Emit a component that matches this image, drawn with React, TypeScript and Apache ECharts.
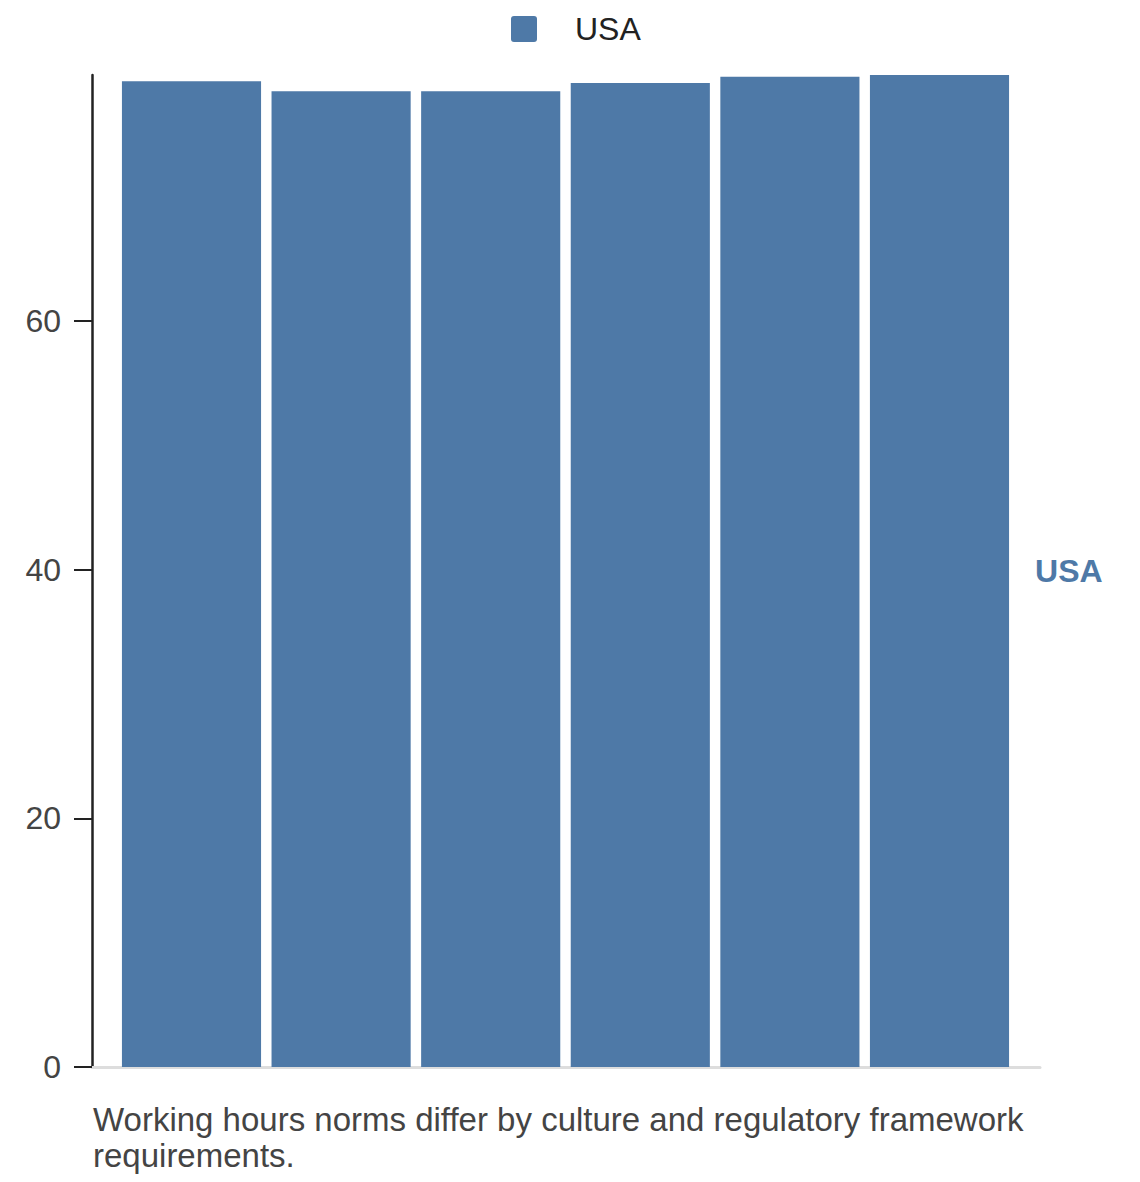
import React, { useEffect, useRef } from "react";
import * as echarts from "echarts";

const categories = ["1", "2", "3", "4", "5", "6"];
const seriesName = "USA";
const usaValues = [79.3, 78.5, 78.5, 79.15, 79.65, 79.8];
const yTicks = [0, 20, 40, 60];
const captionLines = [
  "Working hours norms differ by culture and regulatory framework",
  "requirements.",
];

const FONT = "'Liberation Sans', Arial, sans-serif";
const BLUE = "#4e79a7";

export default function App() {
  const ref = useRef<HTMLDivElement>(null);
  useEffect(() => {
    document.body.style.margin = "0";
    const chart = echarts.init(ref.current!, null, { renderer: "svg" });
    const top = 75;
    const bottom = 1182 - 1067;
    const yMax = usaValues[usaValues.length - 1];
    chart.setOption({
      animation: false,
      textStyle: { fontFamily: FONT },
      legend: {
        data: [seriesName],
        left: 511,
        top: 13,
        icon: "path://M3,0 H23 Q26,0 26,3 V23 Q26,26 23,26 H3 Q0,26 0,23 V3 Q0,0 3,0 Z",
        itemWidth: 26,
        itemHeight: 26,
        padding: 0,
        textStyle: {
          fontSize: 32,
          color: "#222",
          fontFamily: FONT,
          padding: [0, 0, 0, 33],
        },
      },
      grid: [
        { left: 92, right: 100, top, bottom, containLabel: false },
        { left: 116.7, right: 125.7, top, bottom, containLabel: false },
      ],
      xAxis: [
        {
          gridIndex: 0,
          type: "category",
          data: categories,
          axisLine: { show: true, lineStyle: { color: "#dddddd", width: 3 } },
          axisTick: { show: false },
          axisLabel: { show: false },
          splitLine: { show: false },
        },
        {
          gridIndex: 1,
          type: "category",
          data: categories,
          axisLine: { show: false },
          axisTick: { show: false },
          axisLabel: { show: false },
          splitLine: { show: false },
        },
      ],
      yAxis: [
        {
          gridIndex: 0,
          type: "value",
          min: 0,
          max: yMax,
          interval: 20,
          axisLine: { show: true, lineStyle: { color: "#222", width: 2.5 } },
          axisTick: {
            show: true,
            length: 18,
            customValues: yTicks,
            lineStyle: { color: "#222", width: 2 },
          },
          axisLabel: {
            show: true,
            margin: 31,
            fontSize: 32,
            color: "#444",
            fontFamily: FONT,
            customValues: yTicks,
            formatter: (v: number) => (yTicks.includes(v) ? String(v) : ""),
          },
          splitLine: { show: false },
        },
        {
          gridIndex: 1,
          type: "value",
          min: 0,
          max: yMax,
          show: false,
          splitLine: { show: false },
        },
      ],
      series: [
        {
          name: seriesName,
          type: "bar",
          xAxisIndex: 1,
          yAxisIndex: 1,
          barCategoryGap: "7%",
          itemStyle: { color: BLUE },
          data: usaValues.map((v, i) =>
            i === usaValues.length - 1
              ? {
                  value: v,
                  label: {
                    show: true,
                    position: "right",
                    distance: 26,
                    formatter: seriesName,
                    fontSize: 32,
                    fontWeight: "bold",
                    color: BLUE,
                    fontFamily: FONT,
                  },
                }
              : v
          ),
        },
      ],
      graphic: [
        {
          type: "text",
          left: 93,
          top: 1101,
          style: {
            text: captionLines.join("\n"),
            fontSize: 33,
            lineHeight: 36,
            fill: "#444",
            fontFamily: FONT,
          },
        },
      ],
    });
    return () => chart.dispose();
  }, []);
  return <div ref={ref} style={{ width: 1140, height: 1182 }} />;
}
